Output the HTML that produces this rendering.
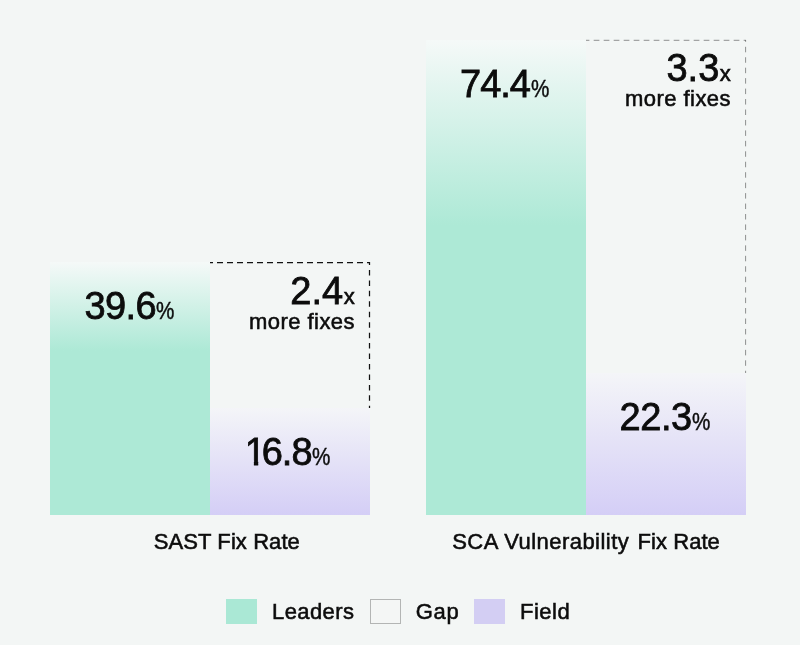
<!DOCTYPE html>
<html>
<head>
<meta charset="utf-8">
<title>Fix Rate: Leaders vs Field</title>
<style>
  html, body { margin: 0; padding: 0; }
  body {
    width: 800px; height: 645px; overflow: hidden; position: relative;
    background: #f3f6f5;
    font-family: "Liberation Sans", Arial, Helvetica, sans-serif;
    color: #0c0c0c;
  }
  .abs { position: absolute; }
  .green { background: linear-gradient(to bottom, #f5f9f8 0%, #ade9d6 35%, #ade9d6 100%); }
  .purple { background: linear-gradient(to bottom, #f4f5f8 0%, #d4cef6 100%); }
  .big { font-size: 38px; line-height: 38px; white-space: nowrap; -webkit-text-stroke: 0.8px #0c0c0c; }
  .big small { font-size: 24px; -webkit-text-stroke: 0.45px #0c0c0c; display:inline-block; transform: scaleX(0.86); transform-origin: left bottom; margin-left: 0.6px; letter-spacing:0; }
  .big .x { font-size: 22px; -webkit-text-stroke: 0.65px #0c0c0c; display:inline-block; margin-left:0.6px; letter-spacing:0; }
  .txt { font-size: 22px; line-height: 22px; white-space: nowrap; -webkit-text-stroke: 0.55px #0c0c0c; }
  .big .one { display:inline-block; clip-path: polygon(0 0, 13.4px 0, 13.4px 38px, 9.1px 38px, 9.1px 27.5px, 0 27.5px); margin-right:-3.4px; }
  .r { text-align: right; }
  svg { position: absolute; left: 0; top: 0; }
</style>
</head>
<body>

<!-- Chart 1 -->
<div class="abs green" style="left:50.3px; top:261.5px; width:159.7px; height:253.8px;"></div>
<div class="abs purple" style="left:210px; top:408px; width:160px; height:107.3px;"></div>

<!-- Chart 2 -->
<div class="abs green" style="left:426.2px; top:39.5px; width:159.8px; height:475.8px; background: linear-gradient(to bottom, #f5f9f8 0%, #ade9d6 39%);"></div>
<div class="abs purple" style="left:586px; top:373px; width:160.2px; height:142.3px;"></div>

<svg width="800" height="645" viewBox="0 0 800 645">
  <g fill="none" stroke="#111" stroke-width="1.25">
    <path d="M210 262.5 H369.9" stroke-dasharray="6 4" stroke-dashoffset="3"/>
    <path d="M369.5 262 V408" stroke-dasharray="5.5 4.95" stroke-dashoffset="2.5"/>
  </g>
  <g fill="none" stroke="#4a4a4a" stroke-width="0.6">
    <path d="M586 40.3 H745.9" stroke-dasharray="5.7 4.3" stroke-dashoffset="2.3"/>
    <path d="M745.6 40 V373" stroke-dasharray="5.5 4.95" stroke-dashoffset="3.65"/>
  </g>
</svg>

<div class="abs big" style="left:84.5px; top:287px; letter-spacing:-0.6px;">39.6<small style="margin-left:0.2px">%</small></div>
<div class="abs big" style="left:244.8px; top:433px; letter-spacing:-0.9px;"><span class="one">1</span>6.8<small style="margin-left:-0.1px">%</small></div>
<div class="abs big" style="left:460px; top:65px; letter-spacing:-1.0px;">74.4<small style="margin-left:0.7px">%</small></div>
<div class="abs big" style="left:619.6px; top:398px; letter-spacing:-0.45px;">22.3<small style="margin-left:0.1px">%</small></div>

<div class="abs big r" style="right:445.3px; top:272px;">2.4<span class="x">x</span></div>
<div class="abs txt r" style="right:445px; top:311px; letter-spacing:0.45px;">more fixes</div>

<div class="abs big r" style="right:69.3px; top:49.2px; letter-spacing:0px;">3.3<span class="x" style="margin-left:0.4px">x</span></div>
<div class="abs txt r" style="right:69px; top:88px; letter-spacing:0.45px;">more fixes</div>

<div class="abs txt" style="left:153.8px; top:530.8px; letter-spacing:0.08px;">SAST Fix Rate</div>
<div class="abs txt" style="left:452.2px; top:530.8px; letter-spacing:0.46px;">SCA Vulnerability</div>
<div class="abs txt" style="left:637.6px; top:530.8px; letter-spacing:0.05px;">Fix Rate</div>

<!-- Legend -->
<div class="abs" style="left:226px; top:598.5px; width:31px; height:25.5px; background:#aae8d5;"></div>
<div class="abs txt" style="left:272px; top:600.5px; letter-spacing:0.4px;">Leaders</div>
<div class="abs" style="left:370px; top:599px; width:31px; height:25px; box-sizing:border-box; border:1px solid #b3b5b4; background:#f4f6f5;"></div>
<div class="abs txt" style="left:415.8px; top:600.5px; letter-spacing:0.7px;">Gap</div>
<div class="abs" style="left:474.3px; top:598.5px; width:30.7px; height:25.5px; background:#d3cef3;"></div>
<div class="abs txt" style="left:520px; top:600.6px; letter-spacing:0.5px;">Field</div>

</body>
</html>
